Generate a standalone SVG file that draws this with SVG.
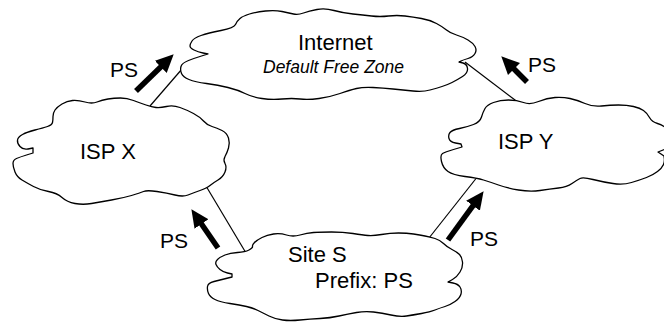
<svg xmlns="http://www.w3.org/2000/svg" width="664" height="322" viewBox="0 0 664 322">
<style>
.cloud{fill:#fff;stroke:#000;stroke-width:1.3;stroke-linejoin:round}
.conn{stroke:#000;stroke-width:1.2;fill:none}
.arr{stroke:#000;stroke-width:5.5;fill:none}
text{font-family:"Liberation Sans",Arial,sans-serif;fill:#000}
.lbl{font-size:22px}
.ps{font-size:21px}
.it{font-size:17.5px;font-style:italic}
</style>
<defs>
<marker id="head" markerUnits="userSpaceOnUse" markerWidth="18" markerHeight="17" viewBox="0 0 18 17" refX="1" refY="8.5" orient="auto">
<path d="M0,0 L18,8.5 L0,17 Z" fill="#000"/>
</marker>
</defs>
<rect width="664" height="322" fill="#fff"/>
<g id="connectors">
<line class="conn" x1="150" y1="106" x2="182" y2="69"/>
<line class="conn" x1="465" y1="62" x2="519" y2="103"/>
<line class="conn" x1="206" y1="186" x2="246" y2="253"/>
<line class="conn" x1="478" y1="176" x2="429" y2="238"/>
<line class="arr" x1="136" y1="91" x2="161.5" y2="66.2" marker-end="url(#head)"/>
<line class="arr" x1="527" y1="82" x2="513.3" y2="68.3" marker-end="url(#head)"/>
<line class="arr" x1="218" y1="248" x2="201" y2="223.2" marker-end="url(#head)"/>
<line class="arr" x1="448" y1="240" x2="473.6" y2="204.9" marker-end="url(#head)"/>
</g>
<g id="internet">
<path class="cloud" d="M190,46 Q190,44 192,41 Q194,38 201,35.5 Q208,33 221,30.5 Q234,28 235.5,24.5 Q237,21 240,18.5 Q243,16 249.5,14 Q256,12 265.5,11 Q275,10 282,11.5 Q289,13 293.5,14 Q298,15 303.5,13 Q309,11 317,9.5 Q325,8 334,10.5 Q343,13 353,14 Q363,15 371.5,16 Q380,17 388.5,16 Q397,15 405,16 Q413,17 421.5,18.5 Q430,20 436.5,23.5 Q443,27 446.5,30 Q450,33 456.5,35 Q463,37 468,40 Q473,43 475,46.5 Q477,50 475,53.5 Q473,57 468,58.5 Q463,60 461,61 L459,62 L463,63 Q467,64 467.5,68.5 Q468,73 462.5,76.5 Q457,80 452,82.5 Q447,85 442,86.5 Q437,88 430,90 Q423,92 413,91 Q403,90 393,89 Q383,88 373,87.5 Q363,87 356.5,88.5 Q350,90 340,93.5 Q330,97 319,98.5 Q308,100 300,99 Q292,98 282,99 Q272,100 262,98.5 Q252,97 245,93.5 Q238,90 228,87.5 Q218,85 206.5,83.5 Q195,82 189,79.5 Q183,77 181.5,73.5 Q180,70 181,66.5 Q182,63 188.5,60.5 Q195,58 201.5,56 L208,54 L203,53 Q198,52 194,50 Q190,48 190,46 Z"/>
<text class="lbl" x="298" y="50">Internet</text>
<text class="it" x="263" y="73">Default Free Zone</text>
</g>
<g id="ispx">
<path class="cloud" d="M53,116.5 Q53,113 55,110 Q57,107 62,104 Q67,101 72.5,100.5 Q78,100 85,102 Q92,104 97,102 Q102,100 108,99 Q114,98 120.5,98 Q127,98 133.5,100.5 Q140,103 146,105 Q152,107 156,107.5 Q160,108 166.5,106.5 Q173,105 180,107.5 Q187,110 193.5,113.5 Q200,117 203.5,121 Q207,125 212,126.5 Q217,128 222,130.5 Q227,133 228.5,138 Q230,143 228.5,148 Q227,153 225,156.5 Q223,160 225,163.5 Q227,167 225,172 Q223,177 218,180 Q213,183 210,185.5 Q207,188 200,190.5 Q193,193 188,195 Q183,197 175,195 Q167,193 157,191.5 Q147,190 143.5,191.5 Q140,193 131.5,195.5 Q123,198 111.5,200 Q100,202 91.5,203.5 Q83,205 75,203.5 Q67,202 62,197.5 Q57,193 48.5,191.5 Q40,190 33.5,186.5 Q27,183 22,180 Q17,177 15,172 Q13,167 13,163.5 Q13,160 16.5,158.5 Q20,157 26.5,155 L33,153 L33,148 L28,149 Q23,150 20,146.5 Q17,143 17.5,140 Q18,137 22.5,134.5 Q27,132 35,130 Q43,128 47.5,126.5 Q52,125 52.5,122.5 Q53,120 53,116.5 Z"/>
<text class="lbl" x="80" y="159">ISP X</text>
</g>
<g id="ispy">
<path class="cloud" d="M481.5,117 Q483,112 485,108.5 Q487,105 493.5,102.5 Q500,100 508.5,100 Q517,100 523.5,102.5 Q530,105 538.5,101.5 Q547,98 555,97.5 Q563,97 570,98.5 Q577,100 585,103.5 Q593,107 601.5,106 Q610,105 618.5,105 Q627,105 633.5,106.5 Q640,108 643.5,110.5 Q647,113 649.5,117.5 Q652,122 657.5,123.5 Q663,125 666.5,128.5 Q670,132 670,139.5 Q670,147 667,148.5 L658,152 L664,156 Q665,161 663.5,164.5 Q662,168 657.5,171.5 Q653,175 646.5,177.5 Q640,180 631.5,182.5 Q623,185 613,183.5 Q603,182 593,179.5 Q583,177 580,178.5 Q577,180 572,183.5 Q567,187 558.5,188 Q550,189 540,190.5 Q530,192 518.5,190 Q507,188 498.5,185 Q490,182 483.5,180 Q477,178 465,176.5 Q453,175 448,171.5 Q443,168 441.5,161.5 Q440,155 442.5,153.5 Q445,152 453.5,149.5 L462,147 L461,144 L455.5,143 Q450,142 449,138.5 Q448,135 450,132.5 Q452,130 459.5,128.5 Q467,127 473.5,124.5 Q480,122 481.5,117 Z"/>
<text class="lbl" x="498" y="149">ISP Y</text>
</g>
<g id="sites">
<path class="cloud" d="M237.5,252.5 Q245,252 249,250 Q253,248 252.5,246.5 Q252,245 254.5,242.5 Q257,240 262,237.5 Q267,235 273.5,234 Q280,233 286.5,235 Q293,237 300,235 Q307,233 313.5,232.5 Q320,232 331.5,232 Q343,232 353,233.5 Q363,235 368,235.5 Q373,236 381.5,234.5 Q390,233 398.5,233 Q407,233 413.5,234 Q420,235 425,236 Q430,237 435,238.5 Q440,240 443.5,243.5 Q447,247 452,249.5 Q457,252 459.5,254.5 Q462,257 462.5,262 Q463,267 460,272 Q457,277 452.5,279.5 L448,282 L453,283 Q458,284 460,287 Q462,290 461,294 Q460,298 455,301.5 Q450,305 445,306.5 Q440,308 435,310 Q430,312 421.5,313.5 Q413,315 406.5,316 Q400,317 391,315 Q382,313 373.5,312 Q365,311 356.5,312.5 Q348,314 339,316 Q330,318 320,318.5 Q310,319 300,320 Q290,321 282.5,320 Q275,319 269,316 Q263,313 258,310.5 Q253,308 246.5,306.5 Q240,305 230,303.5 Q220,302 215,299.5 Q210,297 208.5,293.5 Q207,290 207.5,286.5 Q208,283 214,281.5 Q220,280 226,278.5 L232,277 L232,274 L227.5,273 Q223,272 220,269.5 Q217,267 216,264.5 Q215,262 217.5,259.5 Q220,257 225,255 Q230,253 237.5,252.5 Z"/>
<text class="lbl" x="288" y="262">Site S</text>
<text class="lbl" x="315" y="288">Prefix: PS</text>
</g>
<g id="labels">
<text class="ps" x="110" y="77">PS</text>
<text class="ps" x="528" y="72">PS</text>
<text class="ps" x="160" y="248">PS</text>
<text class="ps" x="470" y="246">PS</text>
</g>
</svg>
